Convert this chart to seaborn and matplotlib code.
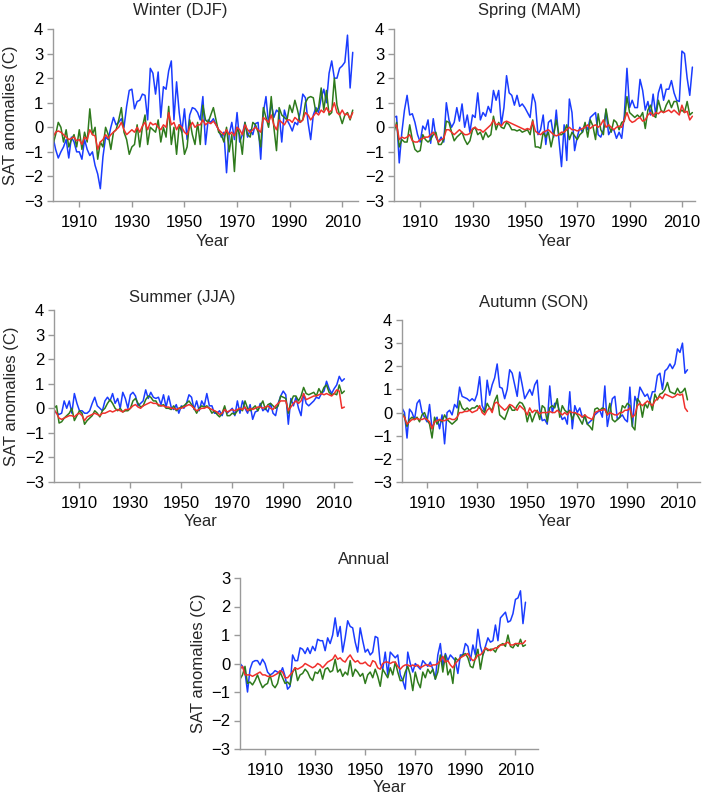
import numpy as np
import pandas as pd
import seaborn as sns
import matplotlib.pyplot as plt

# ---- data (years 1900..2014) ----
winter_blue = [-0.4, -0.9, -1.25, -1.0, -0.8, -0.5, -1.25, -0.4, -0.6, -1.0,
               -1.0, -1.3, -0.5, -0.9, -1.15, -1.0, -1.55, -1.9, -2.5, -1.2,
               -0.4, -0.5, 0.0, 0.4, 0.1, 0.2, 0.35, 0.0, 0.85, 1.5,
               1.55, 0.75, 1.05, 1.1, 1.35, 1.3, 0.3, 2.4, 2.2, 1.35,
               2.25, 0.4, 1.65, 1.55, 2.3, 2.7, 0.3, 1.85, 0.6, -0.2,
               0.75, -0.5, 0.5, 0.8, 0.75, 0.6, 0.3, 1.25, -0.7, 0.3,
               0.2, 0.35, 0.1, -0.1, -0.4, -0.2, -1.85, -0.3, 0.2, -0.5,
               0.6, -0.6, -0.3, 0.2, -0.4, -0.1, -0.3, 0.15, 0.2, -1.3,
               0.6, 1.25, 0.1, 1.0, 0.4, 0.7, 0.6, -0.6, 0.7, 0.3,
               0.1, -0.15, 0.2, 0.1, 0.6, 1.35, 1.2, 0.2, -0.5, 0.5,
               0.8, 0.6, 1.2, 1.55, 1.0, 2.2, 2.7, 2.0, 2.0, 2.4,
               2.5, 2.65, 3.75, 1.6, 3.05]
winter_green = [-0.7, -0.3, 0.2, 0.0, -0.6, -0.1, -0.8, -0.5, -0.3, -0.8,
                -0.1, -0.9, -0.2, -0.6, 0.75, -0.3, 0.0, -1.3, -0.6, -0.8,
                0.0, -0.3, -0.9, -0.2, -0.1, 0.3, 0.8, -0.2, -0.5, -1.1,
                -0.8, -0.7, 0.1, -0.8, 0.0, 0.5, -0.7, 0.0, -0.1, -0.2,
                0.3, -0.6, 0.0, -0.4, 0.85, -0.7, 0.0, -1.1, 0.1, -0.2,
                -1.1, -0.8, 0.3, -0.3, -0.7, 0.2, -0.7, 0.9, 0.3, 0.2,
                0.5, 0.8, 0.3, -0.2, -0.3, -0.6, 0.0, -1.0, -0.3, -1.8,
                0.0, -0.3, -1.1, 0.2, -0.3, -0.4, 0.2, 0.1, -0.2, -0.8,
                0.8, 0.4, 0.0, 1.25, 0.0, -0.95, 0.8, 0.5, 0.4, 0.3,
                0.9, 0.6, 1.1, 0.7, 0.2, 0.3, 1.0, 1.2, 1.25, 1.2,
                0.6, 0.8, 1.6, 0.7, 1.5, 0.5, 0.6, 2.0, 0.9, 0.5,
                0.15, 0.5, 0.6, 0.3, 0.7]
winter_red = [-0.4, -0.2, -0.15, -0.2, -0.3, -0.4, -0.5, -0.45, -0.4, -0.55,
              -0.5, -0.7, -0.4, -0.5, -0.1, -0.3, -0.35, -0.9, -0.6, -0.5,
              -0.3, -0.45, -0.3, -0.2, -0.1, 0.0, 0.2, -0.1, -0.3, -0.2,
              -0.1, -0.2, 0.0, -0.2, 0.05, 0.2, -0.1, 0.2, 0.1, 0.15,
              0.0, -0.1, 0.1, 0.0, 0.6, 0.1, 0.2, -0.1, 0.1, 0.0,
              -0.2, -0.3, 0.0, 0.2, 0.0, 0.1, 0.1, 0.3, 0.1, 0.2,
              0.15, 0.25, 0.1, -0.1, -0.2, -0.3, -0.1, -0.3, -0.2, -0.35,
              0.0, -0.1, -0.3, 0.1, -0.1, -0.2, -0.1, 0.0, -0.1, -0.2,
              0.4, 0.3, 0.2, 0.5, 0.1, -0.1, 0.3, 0.2, 0.1, 0.3,
              0.3, 0.2, 0.4, 0.3, 0.2, 0.3, 0.6, 0.5, 0.3, 0.45,
              0.6, 0.5, 0.7, 0.6, 0.8, 0.6, 0.7, 1.0, 0.6, 0.5,
              0.7, 0.5, 0.55, 0.35, 0.6]

spring_blue = [0.4, 0.45, -1.45, -0.2, 0.7, 1.3, 0.5, 0.55, 0.2, -0.3,
               -0.6, 0.05, -0.1, 0.3, -0.65, 0.35, -0.4, -0.6, -0.4, -0.6,
               1.0, 0.3, 0.0, 0.2, 0.8, 0.25, 0.95, 0.0, 0.5, -0.2,
               0.5, 0.4, 1.4, 0.3, 0.6, 0.45, 0.85, 0.6, 1.5, 1.1,
               1.5, 0.1, 0.8, 2.1, 1.4, 1.3, 0.9, 1.3, 0.85, 0.95,
               0.8, 0.6, 0.4, 1.35, 1.0, -0.3, -0.1, 0.5, -0.7, 0.2,
               0.3, -0.4, 0.7, -0.5, -1.6, 0.1, -1.35, 1.15, 0.6, -0.95,
               -0.4, 0.0, -0.2, 0.1, -0.1, 0.4, 0.5, 0.6, -0.3, -0.4,
               -0.1, 0.7, -0.3, -0.1, -0.1, -0.45, -0.2, -0.45, 0.5, 2.4,
               0.8, 1.1, 0.8, 0.8, 1.95, 1.5, 0.7, 1.05, 0.5, 1.35,
               0.5, 1.4, 1.75, 1.1, 1.55, 1.55, 1.9, 1.4, 1.1, 1.05,
               3.1, 3.0, 2.0, 1.3, 2.45]
spring_green = [-0.2, 0.2, -0.8, -0.5, -0.6, -0.6, 0.1, -0.5, -0.9, -1.0,
                -0.95, -0.3, -0.5, -0.6, -0.5, -0.3, -0.2, -0.7, -0.7, -0.5,
                0.25, 0.2, -0.2, -0.55, -0.4, -0.3, -0.2, -0.5, -0.7, -0.55,
                -0.1, 0.0, -0.3, -0.2, -0.5, -0.2, -0.4, -0.3, 0.45, -0.1,
                0.2, 0.0, -0.05, 0.2, 0.1, -0.1, -0.1, -0.15, -0.1, -0.2,
                -0.15, -0.1, -0.3, 0.3, -0.8, -0.8, -0.85, -0.2, -0.4, -0.2,
                -0.8, -0.3, 0.3, -0.3, -0.3, -0.2, 0.1, -0.5, -0.2, -0.35,
                -0.5, -0.3, -0.2, 0.2, -0.4, 0.3, 0.05, -0.5, 0.55, -0.1,
                -0.3, 0.75, 0.1, -0.2, 0.3, 0.2, -0.1, 0.2, 0.25, 1.25,
                0.6, 0.5, 0.4, 0.5, 0.4, 0.6, -0.05, 0.7, 0.9, 0.5,
                0.4, 1.1, 0.7, 0.6, 0.9, 1.1, 0.8, 1.05, 1.05, 0.6,
                0.7, 0.6, 1.05, 0.5, 0.6]
spring_red = [0.0, 0.1, -0.5, -0.4, -0.45, -0.4, -0.3, -0.55, -0.6, -0.6,
              -0.5, -0.45, -0.4, -0.4, -0.3, -0.2, -0.35, -0.6, -0.5, -0.45,
              -0.1, -0.1, -0.2, -0.3, -0.2, -0.1, -0.2, -0.3, -0.3, -0.25,
              -0.05, 0.0, -0.1, -0.1, -0.2, -0.1, 0.0, 0.1, 0.3, 0.1,
              0.15, 0.05, 0.2, 0.25, 0.2, 0.15, 0.1, 0.05, 0.0, -0.05,
              -0.1, -0.05, -0.1, 0.25, -0.15, -0.25, -0.3, -0.2, -0.15, -0.1,
              -0.2, -0.3, -0.35, -0.3, -0.2, -0.2, -0.1, 0.0, -0.1, -0.1,
              -0.15, -0.1, -0.05, 0.0, 0.1, -0.05, 0.05, 0.1, 0.0, 0.1,
              0.3, 0.0, 0.1, 0.0, -0.1, 0.0, 0.05, 0.0, 0.3, 0.6,
              0.3, 0.2, 0.25, 0.35, 0.4, 0.25, 0.3, 0.5, 0.6, 0.45,
              0.6, 0.55, 0.65, 0.6, 0.65, 0.7, 0.6, 0.7, 0.6, 0.5,
              0.9, 0.6, 0.65, 0.3, 0.45]

summer_blue = [-0.1, -0.2, -0.25, -0.2, 0.3, 0.0, 0.3, -0.2, 0.6, 0.2,
               -0.1, -0.1, -0.2, -0.2, -0.1, 0.2, 0.45, 0.1, 0.0, -0.1,
               0.3, 0.45, 0.3, 0.6, 0.2, 0.4, 0.0, 0.65, 0.4, 0.0,
               0.55, 0.65, 0.5, 0.1, 0.2, 0.3, 0.75, 0.4, 0.65, 0.45,
               0.4, 0.45, 0.15, 0.55, 0.05, 0.5, 0.05, -0.05, 0.15, -0.2,
               0.1, 0.0, 0.2, 0.55, 0.45, -0.05, 0.3, -0.1, 0.3, 0.1,
               0.6, 0.1, 0.1, -0.2, -0.2, -0.1, -0.3, 0.0, -0.2, -0.1,
               0.0, -0.3, 0.3, -0.2, 0.3, 0.0, -0.2, 0.15, -0.45, -0.15,
               -0.1, 0.2, -0.1, 0.0, -0.15, 0.2, -0.2, -0.3, 0.2, 0.5,
               0.7, 0.55, -0.65, 0.4, 0.1, 0.45, 0.0, -0.3, 0.6, 0.2,
               0.1, 0.2, 0.3, 0.45, 0.4, 0.6, 0.7, 1.1, 0.8, 0.6,
               0.8, 0.95, 1.3, 1.1, 1.2]
summer_green = [0.0, 0.1, -0.6, -0.55, -0.4, -0.3, -0.2, 0.0, -0.5, -0.3,
                -0.1, -0.2, -0.65, -0.5, -0.4, -0.3, -0.1, -0.2, -0.35, -0.1,
                0.0, 0.2, 0.35, 0.2, 0.0, -0.1, 0.0, -0.15, -0.1, -0.1,
                0.0, 0.3, 0.4, 0.2, 0.05, 0.1, 0.35, 0.5, 0.45, 0.3,
                0.3, 0.1, 0.1, 0.15, 0.0, 0.0, -0.05, 0.1, -0.1, 0.0,
                0.05, 0.1, 0.2, 0.3, 0.15, 0.0, -0.2, 0.0, 0.1, 0.05,
                0.1, 0.0, -0.2, -0.1, -0.25, -0.35, -0.2, 0.1, -0.3, -0.3,
                -0.2, -0.25, -0.1, 0.0, -0.1, 0.3, 0.0, -0.1, 0.0, 0.1,
                -0.1, 0.1, 0.3, -0.05, 0.15, 0.2, 0.1, 0.0, 0.1, 0.5,
                0.45, 0.4, -0.2, 0.25, 0.5, 0.5, 0.3, 0.5, 0.85, 0.6,
                0.55, 0.6, 0.65, 0.5, 0.8, 0.6, 0.85, 0.95, 0.65, 0.55,
                0.6, 0.55, 0.95, 0.6, 0.7]
summer_red = [-0.05, -0.2, -0.4, -0.45, -0.4, -0.35, -0.3, -0.3, -0.35, -0.25,
              -0.2, -0.3, -0.5, -0.35, -0.3, -0.25, -0.2, -0.25, -0.3, -0.2,
              -0.2, -0.15, -0.1, -0.15, -0.1, -0.05, -0.1, -0.15, -0.05, -0.05,
              0.0, 0.1, 0.15, 0.05, 0.0, 0.1, 0.15, 0.2, 0.25, 0.2,
              0.2, 0.15, 0.1, 0.1, 0.05, 0.05, 0.0, 0.0, -0.05, 0.0,
              0.0, 0.05, 0.1, 0.15, 0.1, 0.0, -0.1, -0.05, 0.0, 0.0,
              0.05, 0.0, -0.05, -0.1, -0.15, -0.25, -0.2, -0.05, -0.15, -0.1,
              -0.05, -0.1, -0.05, 0.0, -0.05, 0.05, -0.1, 0.0, -0.05, 0.0,
              0.05, 0.05, 0.0, 0.05, 0.1, 0.0, -0.05, 0.1, 0.2, 0.3,
              0.3, 0.3, -0.1, 0.05, 0.2, 0.3, 0.2, 0.3, 0.6, 0.35,
              0.4, 0.45, 0.5, 0.5, 0.55, 0.6, 0.55, 0.6, 0.55, 0.5,
              0.6, 0.75, 0.7, 0.0, 0.05]

autumn_blue = [0.2, 0.0, -1.1, 0.15, 0.0, -0.3, 0.4, 0.55, 0.0, -0.2,
               -0.4, 0.35, -0.7, -0.4, -0.2, -0.7, -0.1, -1.35, 0.0, 0.1,
               -0.1, 0.35, 0.2, 1.1, 0.7, 0.65, 0.6, 0.5, 0.6, 0.5,
               0.8, 1.55, 0.3, 0.05, 1.4, 0.75, 1.2, 1.5, 2.1, 1.1,
               1.05, 0.6, 1.0, 1.85, 1.7, 1.2, 0.7, 1.75, 1.2, 0.6,
               0.8, 1.0, 0.75, 1.2, 1.4, 0.1, -0.35, -0.3, -0.5, 1.15,
               0.0, 0.4, 0.4, 0.0, -0.3, -0.2, -0.5, 0.9, -0.7, 0.3,
               0.0, 0.2, -0.2, -0.2, -0.5, -0.4, -0.3, -0.1, 0.0, 0.1,
               -0.2, 1.15, -0.6, 0.0, 0.6, 0.7, -0.3, -0.2, -0.1, -0.3,
               -0.4, 1.1, -0.6, 0.7, 0.4, 1.1, 0.9, 0.7, 0.8, 0.5,
               0.9, 0.9, 1.6, 1.7, 1.0, 1.8, 1.9, 2.1, 1.9, 2.1,
               2.75, 2.6, 3.0, 1.7, 1.85]
autumn_green = [0.0, -0.2, -0.6, -0.3, -0.2, -0.3, -0.2, -0.4, -0.1, 0.0,
                -0.3, -0.5, -1.1, -0.2, -0.5, -0.3, -0.4, -0.1, -0.3, -0.4,
                -0.5, -0.4, -0.3, 0.5, 0.2, 0.1, 0.2, 0.1, 0.2, 0.2,
                0.3, 0.2, 0.1, 0.0, 0.4, 0.2, 0.1, 0.5, 0.75, -0.1,
                -0.2, -0.3, 0.0, 0.3, 0.1, 0.1, 0.3, 0.45, 0.4, 0.2,
                -0.4, 0.0, -0.4, -0.1, 0.1, -0.3, 0.3, 0.2, -0.4, 0.2,
                0.3, 0.2, 0.6, -0.2, 0.3, 0.1, 0.0, 0.1, -0.3, 0.0,
                -0.1, -0.3, -0.5, -0.1, -0.5, -0.6, -0.75, 0.15, 0.2, 0.1,
                0.2, 0.15, -0.1, 0.4, -0.3, -0.4, -0.3, -0.2, 0.3, 0.2,
                0.4, 0.3, -0.6, -0.75, 0.6, 0.45, -0.2, 0.4, 0.2, 0.5,
                0.1, 0.8, 0.55, 0.8, 0.85, 1.0, 1.3, 0.9, 0.85, 0.8,
                1.05, 0.85, 0.9, 1.05, 0.55]
autumn_red = [-0.1, -0.2, -0.5, -0.4, -0.3, -0.3, -0.25, -0.3, -0.3, -0.25,
              -0.3, -0.4, -0.7, -0.4, -0.35, -0.3, -0.35, -0.35, -0.3, -0.25,
              -0.3, -0.3, -0.2, 0.0, 0.0, 0.05, 0.05, 0.1, 0.0, 0.05,
              0.1, 0.3, 0.0, -0.1, 0.1, 0.2, 0.0, 0.4, 0.45, 0.3,
              0.2, 0.1, 0.2, 0.35, 0.3, 0.2, 0.1, 0.3, 0.2, 0.1,
              -0.1, 0.2, 0.0, 0.1, 0.05, -0.05, 0.0, 0.0, 0.0, 0.05,
              0.0, 0.0, 0.1, 0.0, -0.1, 0.0, -0.1, 0.05, 0.0, 0.0,
              -0.05, -0.1, -0.2, -0.1, -0.2, -0.25, -0.3, 0.0, 0.05, 0.1,
              0.1, 0.15, -0.1, 0.0, -0.05, -0.1, -0.1, 0.0, 0.0, 0.1,
              0.1, 0.2, -0.2, -0.1, 0.3, 0.4, 0.3, 0.4, 0.5, 0.4,
              0.3, 0.5, 0.6, 0.7, 0.6, 0.8, 0.75, 0.7, 0.65, 0.7,
              0.8, 0.75, 0.8, 0.2, 0.05]

annual_blue = [0.0, -0.1, -0.3, -1.0, -0.2, 0.05, 0.1, 0.1, -0.05, 0.15,
               0.0, -0.3, -0.4, -0.35, -0.25, -0.3, -0.35, -0.15, -0.45, -0.9,
               -0.8, 0.3, 0.1, 0.1, 0.55, 0.5, 0.35, 0.55, 0.35, 0.6,
               0.45, 0.85, 0.8, 0.8, 0.45, 0.9, 0.7, 1.0, 1.6, 0.95,
               1.3, 0.4, 0.9, 1.5, 1.3, 1.25, 0.75, 0.4, 1.25, 0.8,
               0.4, 0.5, 0.3, 0.4, 0.95, 0.9, 0.0, -0.2, 0.4, -0.4,
               0.4, 0.3, 0.2, 0.3, -0.4, -0.6, -0.9, 0.4, 0.0, -0.3,
               0.0, -0.1, -0.2, 0.1, 0.0, -0.1, 0.05, -0.2, -0.55, 0.3,
               0.7, -0.1, 0.35, 0.1, 0.3, 0.2, 0.1, -0.35, 0.3, 0.3,
               0.7, 0.6, 0.1, 0.65, 0.3, 1.2, 0.6, 0.3, 0.6, 0.9,
               0.75, 0.8, 1.35, 0.8, 1.6, 1.7, 1.8, 1.45, 1.5, 1.75,
               2.25, 2.3, 2.55, 1.4, 2.15]
annual_green = [-0.55, -0.4, -0.1, -0.7, -0.65, -0.75, -0.6, -0.4, -0.65, -0.85,
                -0.75, -0.7, -0.4, -0.75, -0.85, -0.7, -0.3, -0.5, -0.7, -0.65,
                -0.75, -0.3, -0.15, -0.6, -0.4, -0.35, -0.2, -0.3, -0.5, -0.6,
                -0.3, -0.35, -0.2, -0.55, -0.2, -0.15, -0.3, -0.25, 0.15, -0.3,
                -0.2, -0.45, -0.3, -0.4, 0.1, -0.45, -0.2, -0.3, -0.45, -0.35,
                -0.7, -0.4, -0.3, -0.5, -0.2, -0.45, -0.8, -0.2, -0.35, -0.5,
                -0.15, -0.4, 0.05, -0.3, -0.6, -0.6, -0.3, -0.1, -0.4, -0.95,
                -0.3, -0.65, -0.85, -0.3, -0.5, -0.2, -0.35, -0.2, -0.55, -0.3,
                0.3, -0.3, 0.3, -0.4, -0.2, -0.7, 0.2, 0.1, 0.2, 0.3,
                0.35, 0.2, -0.1, -0.15, 0.2, 0.5, -0.2, 0.3, 0.55, 0.45,
                0.5, 0.5, 0.4, 0.6, 0.65, 0.7, 0.6, 1.0, 0.6, 0.55,
                0.7, 0.6, 0.85, 0.6, 0.65]
annual_red = [-0.2, -0.1, -0.4, -0.4, -0.4, -0.45, -0.4, -0.35, -0.3, -0.4,
              -0.4, -0.45, -0.45, -0.45, -0.4, -0.35, -0.25, -0.3, -0.5, -0.5,
              -0.4, -0.3, -0.15, -0.2, -0.15, -0.1, 0.0, -0.05, -0.1, -0.15,
              -0.1, 0.0, -0.05, -0.15, -0.05, 0.05, 0.1, 0.15, 0.3, 0.15,
              0.2, 0.1, 0.05, 0.2, 0.3, 0.15, 0.05, 0.1, 0.0, 0.0,
              0.05, -0.05, -0.1, 0.1, 0.05, -0.15, -0.2, 0.0, 0.05, 0.05,
              0.0, 0.05, 0.05, -0.1, -0.2, -0.1, -0.05, -0.05, -0.1, -0.05,
              -0.1, -0.05, -0.15, -0.1, -0.05, -0.05, -0.1, -0.05, -0.05, 0.0,
              0.1, 0.25, 0.05, 0.1, -0.05, -0.15, 0.0, 0.1, 0.2, 0.25,
              0.3, 0.35, 0.2, 0.1, 0.15, 0.3, 0.3, 0.4, 0.55, 0.5,
              0.45, 0.5, 0.55, 0.55, 0.65, 0.65, 0.7, 0.75, 0.65, 0.65,
              0.7, 0.7, 0.7, 0.7, 0.8]

start_year = 1900
xtick_years = [1910, 1930, 1950, 1970, 1990, 2010]
colors = {"blue": "#1a3cff", "green": "#2e7a1c", "red": "#f0302c"}

# panel: title, series, (left, right, top, bottom) px, xmax, ylim, ylabel?, title xy, "Year" xy
panels = [
    ("Winter (DJF)", (winter_blue, winter_green, winter_red), (53, 358, 29, 201), 2016, (-3, 4), True, (180, 10), (213, 241)),
    ("Spring (MAM)", (spring_blue, spring_green, spring_red), (394, 695, 29, 201), 2015, (-3, 4), False, (529, 10), (555, 241)),
    ("Summer (JJA)", (summer_blue, summer_green, summer_red), (54, 352, 310, 482), 2017, (-3, 4), True, (182, 298), (201, 521)),
    ("Autumn (SON)", (autumn_blue, autumn_green, autumn_red), (402, 700, 320, 482), 2019, (-3, 4), False, (534, 302), (555, 521)),
    ("Annual", (annual_blue, annual_green, annual_red), (240, 538, 578, 749), 2019, (-3, 3), True, (364, 559), (390, 788)),
]

sns.set_style("ticks")
plt.rcParams["font.family"] = ["Liberation Sans", "DejaVu Sans"]
plt.rcParams["font.size"] = 11

W, H = 705, 798
fig = plt.figure(figsize=(W / 100, H / 100), dpi=100)

for title, series, (l, r, t, b), xmax, ylim, has_ylab, txy, yxy in panels:
    ax = fig.add_axes([l / W, 1 - b / H, (r - l) / W, (b - t) / H])
    rows = []
    for name, vals in zip(["blue", "green", "red"], series):
        for i, v in enumerate(vals):
            rows.append((start_year + i, v, name))
    df = pd.DataFrame(rows, columns=["year", "anom", "series"])
    sns.lineplot(data=df, x="year", y="anom", hue="series",
                 hue_order=["blue", "green", "red"], palette=colors,
                 linewidth=1.1, legend=False, ax=ax)
    ax.set_xlim(start_year, xmax)
    ax.set_ylim(*ylim)
    ax.set_xticks(xtick_years)
    ax.set_yticks(range(ylim[0], ylim[1] + 1))
    ax.set_xlabel("")
    ax.set_ylabel("")
    for side in ["top", "right"]:
        ax.spines[side].set_visible(False)
    for side in ["left", "bottom"]:
        ax.spines[side].set_color("#9a9a9a")
        ax.spines[side].set_linewidth(1.0)
    ax.tick_params(axis="both", color="#9a9a9a", length=4, width=1.0,
                   labelsize=12, labelcolor="black")
    ax.tick_params(axis="x", pad=6)
    ax.tick_params(axis="y", pad=3)
    fig.text(txy[0] / W, 1 - txy[1] / H, title, ha="center", va="center", fontsize=12)
    fig.text(yxy[0] / W, 1 - yxy[1] / H, "Year", ha="center", va="center", fontsize=12)
    if has_ylab:
        fig.text((l - 42) / W, 1 - ((t + b) / 2) / H, "SAT anomalies (C)",
                 ha="center", va="center", rotation=90, fontsize=12)

fig.savefig("out.png", dpi=100)
